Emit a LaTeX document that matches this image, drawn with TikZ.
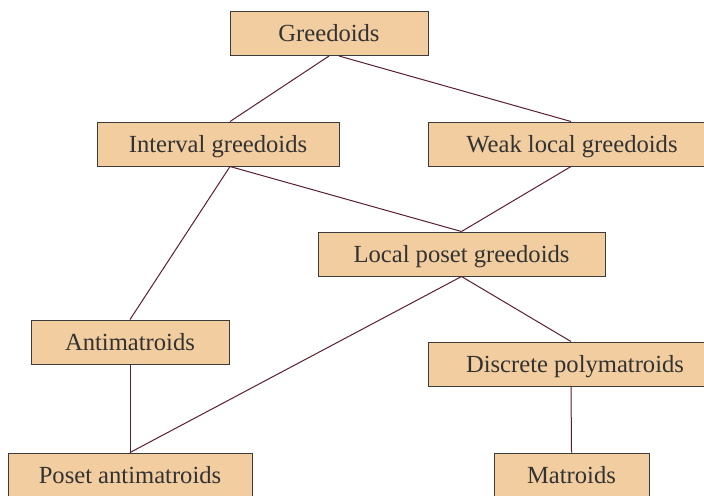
\documentclass[tikz,border=0pt]{standalone}
\usepackage{fontspec}
\setmainfont{Liberation Serif}
\usepackage{tikz}
\usetikzlibrary{arrows.meta}
\definecolor{boxfill}{RGB}{241,205,160}
\definecolor{boxline}{RGB}{60,60,60}
\definecolor{linkline}{RGB}{90,30,45}
\definecolor{textgrey}{RGB}{50,50,50}
\tikzset{
	block/.style    = {draw=boxline, fill=boxfill, rectangle, line width=0.5pt,
		text=textgrey, inner sep=0pt,
		text height=8.2pt, text depth=0pt,
		minimum height = 22pt},
	link/.style     = {draw=linkline, line width=0.5pt},
}

\begin{document}
\begin{tikzpicture}[ x=0.5pt, y=-0.5pt,                %<--one unit is one pixel of the picture
					font=\fontsize{12.3}{14}\selectfont, %<--setting text size
					every node/.style={scale=1} ]
	\useasboundingbox (0,0) rectangle (704,495);

	\begin{scope}
	\clip (0,0) rectangle (704,495);
	\draw%-----------------------------------------------------------------------------------------
	%Drawing the top levels:
	node(greed) at (329,33.5) [block, minimum width=99pt] {Greedoids}
	node(interval) at (218,144) [block, minimum width=121pt] {Interval greedoids}
	node(weak) at (566,144) [block, minimum width=138pt] {\hspace{6pt}Weak local greedoids}
	node(localposet) at (461.5,254) [block, minimum width=143.5pt] {Local poset greedoids}
	%Drawing the lower levels:
	node(anti) at (130,342) [block, minimum width=99pt] {Antimatroids}
	node(discrete) at (566,364) [block, minimum width=138pt] {\hspace{9pt}Discrete polymatroids}
	node(posetanti) at (130,475) [block, minimum width=122pt] {Poset antimatroids}
	node(matroids) at (571.5,475) [block, minimum width=77.5pt] {Matroids}
	;%---------------------------------------------------------------------------------------------
	\end{scope}

	%Joining the Blocks
	\draw[link] (greed.south) -- ([xshift=6pt]interval.north);
	\draw[link] ([xshift=5pt]greed.south) -- ([xshift=2.5pt]weak.north);
	\draw[link] ([xshift=6pt]interval.south) -- (localposet.north);
	\draw[link] ([xshift=2.5pt]weak.south) -- (localposet.north);
	\draw[link] ([xshift=6pt]interval.south) -- (anti.north);
	\draw[link] (localposet.south) -- (posetanti.north);
	\draw[link] (localposet.south) -- ([xshift=2.5pt]discrete.north);
	\draw[link] (anti.south) -- (posetanti.north);
	\draw[link] ([xshift=2.5pt]discrete.south) -- (matroids.north);

\end{tikzpicture}
\end{document}
